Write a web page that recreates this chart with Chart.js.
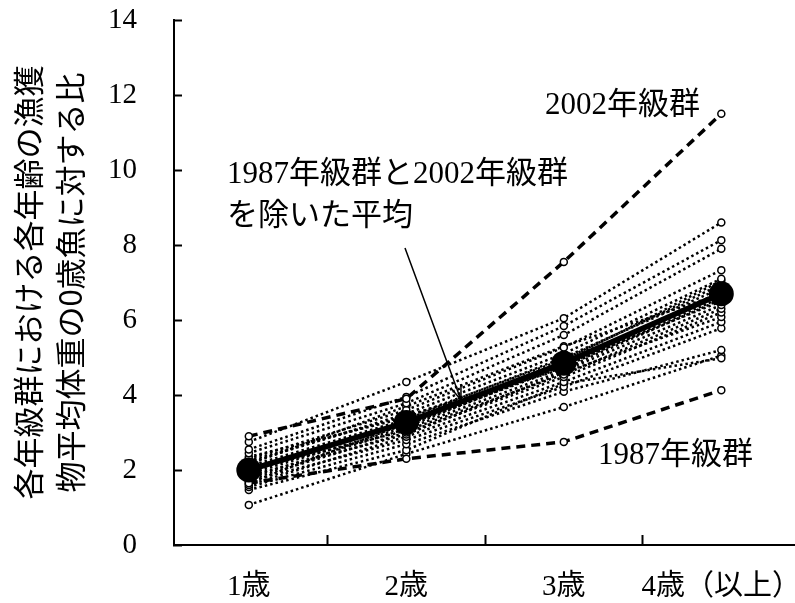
<!DOCTYPE html>
<html lang="ja">
<head>
<meta charset="UTF-8">
<title>各年級群における各年齢の漁獲物平均体重の比</title>
<script src="https://cdn.jsdelivr.net/npm/chart.js@4"></script>
<style>
  html, body { margin: 0; padding: 0; background: #fff; }
</style>
</head>
<body>
<canvas id="weightChart" width="795" height="603"></canvas>
<script>
// ages on the x axis and their labels
const ages = [1, 2, 3, 4];
const ageLabels = ['1歳', '2歳', '3歳', '4歳（以上）'];
const yTicks = [0, 2, 4, 6, 8, 10, 12, 14];

// mean without 1987 and 2002 cohorts
const meanExcluded = [2.0, 3.27, 4.85, 6.7];
const cohort1987 = [1.65, 2.3, 2.75, 4.13];
const cohort2002 = [2.9, 3.9, 7.55, 11.5];

// every other cohort (dotted lines)
const otherCohorts = [
    [2.75, 4.35, 6.05, 8.6],
    [2.55, 3.95, 5.84, 8.13],
    [2.45, 3.78, 5.6, 7.9],
    [2.3, 3.6, 5.27, 7.33],
    [2.2, 3.5, 5.1, 7.1],
    [2.35, 3.4, 4.95, 6.95],
    [2.1, 3.35, 5.0, 6.85],
    [1.95, 3.3, 4.85, 6.75],
    [2.05, 3.2, 4.75, 6.6],
    [1.9, 3.15, 4.8, 6.5],
    [1.8, 3.1, 4.65, 6.4],
    [2.0, 3.05, 4.55, 6.3],
    [1.75, 3.0, 4.48, 6.2],
    [1.85, 2.95, 4.6, 6.08],
    [1.6, 2.89, 4.35, 5.95],
    [1.7, 2.8, 4.22, 5.78],
    [1.55, 2.69, 4.09, 5.2],
    [1.47, 2.53, 4.3, 4.98],
    [1.07, 2.43, 3.68, 5.05],
    [2.15, 3.7, 5.3, 6.7],
    [1.65, 3.25, 4.9, 7.05],
    [2.25, 3.45, 4.7, 6.55]
];

const serif = "'Liberation Serif', 'Noto Sans CJK JP', serif";
const toPoints = values => values.map((v, i) => ({ x: ages[i], y: v }));

const datasets = [];
datasets.push({
    data: toPoints(meanExcluded),
    borderColor: '#000',
    borderWidth: 5.5,
    pointRadius: 12.5,
    pointBackgroundColor: '#000',
    pointBorderColor: '#000',
    pointBorderWidth: 0
});
[cohort2002, cohort1987].forEach(values => {
    datasets.push({
        data: toPoints(values),
        borderColor: '#000',
        borderWidth: 3.5,
        borderDash: [9, 6],
        pointRadius: 3.5,
        pointBackgroundColor: '#fff',
        pointBorderColor: '#000',
        pointBorderWidth: 1.5
    });
});
otherCohorts.forEach(values => {
    datasets.push({
        data: toPoints(values),
        borderColor: '#000',
        borderWidth: 2.5,
        borderDash: [2.5, 3],
        pointRadius: 3.5,
        pointBackgroundColor: '#fff',
        pointBorderColor: '#000',
        pointBorderWidth: 1.5
    });
});

// text labels and the arrow
const notesPlugin = {
    id: 'notes',
    afterDatasetsDraw(chart) {
        const ctx = chart.ctx;
        ctx.save();
        ctx.fillStyle = '#000';
        ctx.font = '31px ' + serif;
        ctx.textBaseline = 'middle';
        ctx.textAlign = 'left';
        ctx.fillText('2002年級群', 545, 106);
        ctx.fillText('1987年級群', 598, 456);
        ctx.fillText('1987年級群と2002年級群', 227, 175);
        ctx.fillText('を除いた平均', 227, 217);

        const x0 = 405, y0 = 248, x1 = 461, y1 = 400;
        ctx.strokeStyle = '#000';
        ctx.lineWidth = 1.5;
        ctx.beginPath();
        ctx.moveTo(x0, y0);
        ctx.lineTo(x1, y1);
        const ang = Math.atan2(y1 - y0, x1 - x0);
        const len = 16;
        ctx.moveTo(x1 - len * Math.cos(ang - 0.35), y1 - len * Math.sin(ang - 0.35));
        ctx.lineTo(x1, y1);
        ctx.lineTo(x1 - len * Math.cos(ang + 0.35), y1 - len * Math.sin(ang + 0.35));
        ctx.stroke();
        ctx.restore();
    }
};

new Chart(document.getElementById('weightChart'), {
    type: 'line',
    data: { datasets: datasets },
    options: {
        responsive: false,
        animation: false,
        layout: {
            autoPadding: false,
            padding: { top: 20, left: 0, right: 0, bottom: 0 }
        },
        plugins: {
            legend: { display: false },
            tooltip: { enabled: false }
        },
        scales: {
            x: {
                type: 'linear',
                min: 0.525,
                max: 0.525 + 621 / 157.5,
                afterBuildTicks: scale => {
                    scale.ticks = [1, 1.5, 2, 2.5, 3, 3.5, 4].map(v => ({ value: v }));
                },
                afterFit: scale => {
                    scale.height = 58;
                    scale.paddingLeft = 0;
                    scale.paddingRight = 0;
                },
                border: { color: '#000', width: 2 },
                grid: {
                    drawOnChartArea: false,
                    tickLength: -10,
                    tickWidth: 2,
                    tickColor: c => (c.tick && Number.isInteger(c.tick.value)) ? 'rgba(0,0,0,0)' : '#000'
                },
                ticks: {
                    autoSkip: false,
                    maxRotation: 0,
                    padding: 35,
                    color: '#000',
                    font: { family: serif, size: 29 },
                    callback: v => Number.isInteger(v) ? ageLabels[ages.indexOf(v)] : ''
                }
            },
            y: {
                min: 0,
                max: 14,
                afterBuildTicks: scale => {
                    scale.ticks = yTicks.map(v => ({ value: v }));
                },
                afterFit: scale => {
                    scale.width = 174;
                    scale.paddingTop = 0;
                    scale.paddingBottom = 0;
                },
                border: { color: '#000', width: 2 },
                grid: {
                    drawOnChartArea: false,
                    tickLength: -8,
                    tickWidth: 2,
                    tickColor: '#000'
                },
                ticks: {
                    padding: 45,
                    color: '#000',
                    font: { family: serif, size: 29 }
                },
                title: {
                    display: true,
                    text: ['各年級群における各年齢の漁獲', '物平均体重の0歳魚に対する比'],
                    color: '#000',
                    font: { family: "'Noto Sans CJK JP', sans-serif", size: 31, lineHeight: 1.35 },
                    padding: { top: 7, bottom: 0 }
                }
            }
        }
    },
    plugins: [notesPlugin]
});
</script>
</body>
</html>
